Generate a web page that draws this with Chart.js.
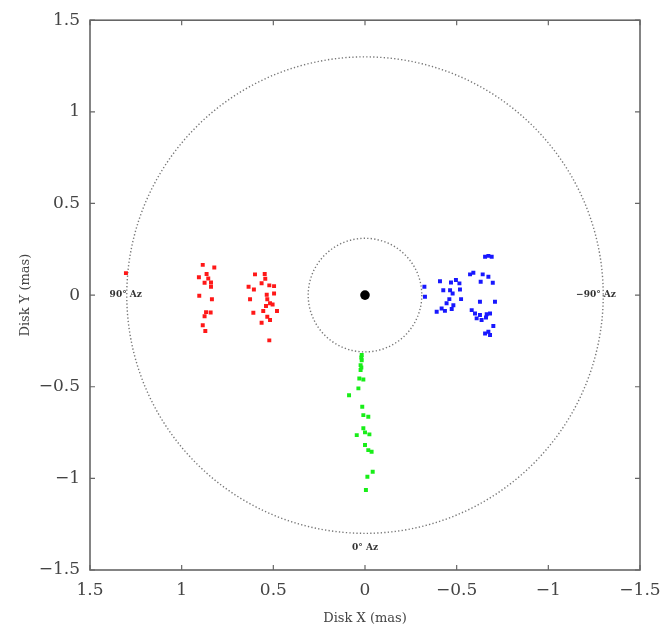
<!DOCTYPE html>
<html><head><meta charset="utf-8">
<script src="https://cdn.jsdelivr.net/npm/chart.js@4"></script>
<style>html,body{margin:0;padding:0;background:#fff;}#wrap{width:662px;height:632px;}</style>
</head><body><div id="wrap"><canvas id="c" width="662" height="632"></canvas></div>
<script>
const redX = [0.885,0.822,0.864,0.906,0.855,0.875,0.840,0.840,0.904,0.835,0.867,0.842,0.875,0.885,0.871,
  0.600,0.547,0.544,0.564,0.635,0.606,0.522,0.496,0.496,0.536,0.627,0.533,0.518,0.540,0.504,0.555,0.480,0.609,0.533,0.564,0.518,0.522,1.304];
const redY = [0.165,0.151,0.115,0.097,0.091,0.067,0.069,0.045,-0.004,-0.023,-0.093,-0.095,-0.115,-0.164,-0.196,
  0.113,0.115,0.089,0.065,0.045,0.031,0.053,0.049,0.009,0.002,-0.023,-0.023,-0.045,-0.060,-0.051,-0.087,-0.087,-0.096,-0.118,-0.151,-0.136,-0.247,0.120];
const blueX = [-0.673,-0.691,-0.655,-0.573,-0.591,-0.642,-0.673,-0.631,-0.697,-0.409,-0.469,-0.496,-0.515,-0.324,-0.427,-0.464,-0.518,-0.478,-0.327,-0.460,-0.524,-0.445,-0.482,-0.418,-0.391,-0.436,-0.473,-0.627,-0.709,-0.582,-0.600,-0.627,-0.664,-0.682,-0.609,-0.636,-0.660,-0.700,-0.673,-0.682,-0.655];
const blueY = [0.214,0.209,0.209,0.113,0.122,0.113,0.100,0.073,0.067,0.076,0.069,0.082,0.064,0.045,0.027,0.027,0.031,0.009,-0.009,-0.022,-0.022,-0.045,-0.055,-0.073,-0.091,-0.086,-0.076,-0.036,-0.036,-0.082,-0.100,-0.109,-0.104,-0.100,-0.127,-0.136,-0.122,-0.169,-0.200,-0.218,-0.209];
const greenX = [0.018,0.018,0.024,0.024,0.031,0.009,0.036,0.087,0.015,0.009,-0.018,0.009,0.045,0.000,-0.024,0.000,-0.018,-0.036,-0.042,-0.013,-0.005,0.020,0.020];
const greenY = [-0.327,-0.355,-0.382,-0.409,-0.455,-0.460,-0.509,-0.546,-0.609,-0.655,-0.664,-0.727,-0.764,-0.749,-0.760,-0.818,-0.846,-0.855,-0.964,-0.991,-1.064,-0.340,-0.395];
const centerX = [0];
const centerY = [0];
const outerRadius = 1.3;
const innerRadius = 0.31;
const tickValues = [-1.5,-1,-0.5,0,0.5,1,1.5];
const annotations = [
  {x: 1.305, y: 0, text: "90° Az"},
  {x: -1.26, y: 0, text: "−90° Az"},
  {x: 0, y: -1.38, text: "0° Az"}
];

const pts = (xs, ys) => xs.map((x, i) => ({x, y: ys[i]}));
const fmt = v => (v < 0 ? "−" + String(-v) : String(v));
const serif = "'DejaVu Serif', 'Liberation Serif', serif";

const decor = {
  id: 'decor',
  beforeDatasetsDraw(chart) {
    const {ctx, chartArea: a, scales: {x, y}} = chart;
    const cx = x.getPixelForValue(0), cy = y.getPixelForValue(0);
    ctx.save();
    ctx.strokeStyle = '#777';
    ctx.lineWidth = 1.4;
    ctx.setLineDash([1.3, 2.2]);
    [outerRadius, innerRadius].forEach(r => {
      const rp = Math.abs(y.getPixelForValue(r) - cy);
      ctx.beginPath(); ctx.arc(cx, cy, rp, 0, Math.PI * 2); ctx.stroke();
    });
    ctx.setLineDash([]);
    ctx.fillStyle = '#333';
    ctx.font = "bold 9px " + serif;
    ctx.textAlign = 'center'; ctx.textBaseline = 'middle';
    annotations.forEach(an => {
      ctx.fillText(an.text, x.getPixelForValue(an.x), y.getPixelForValue(an.y));
    });
    ctx.restore();
  },
  afterDraw(chart) {
    const {ctx, chartArea: a, scales: {x, y}} = chart;
    ctx.save();
    ctx.strokeStyle = '#666';
    ctx.lineWidth = 1.6;
    ctx.strokeRect(a.left, a.top, a.right - a.left, a.bottom - a.top);
    ctx.lineWidth = 1.2;
    const tl = 5;
    tickValues.forEach(v => {
      const px = x.getPixelForValue(v), py = y.getPixelForValue(v);
      ctx.beginPath();
      ctx.moveTo(px, a.bottom); ctx.lineTo(px, a.bottom - tl);
      ctx.moveTo(px, a.top); ctx.lineTo(px, a.top + tl);
      ctx.moveTo(a.left, py); ctx.lineTo(a.left + tl, py);
      ctx.moveTo(a.right, py); ctx.lineTo(a.right - tl, py);
      ctx.stroke();
    });
    ctx.restore();
  }
};

new Chart(document.getElementById('c'), {
  type: 'scatter',
  data: {
    datasets: [
      {data: pts(redX, redY), backgroundColor: '#ff1818', borderWidth: 0, pointStyle: 'rect', pointRadius: 2.8},
      {data: pts(blueX, blueY), backgroundColor: '#1818ff', borderWidth: 0, pointStyle: 'rect', pointRadius: 2.8},
      {data: pts(greenX, greenY), backgroundColor: '#18ee18', borderWidth: 0, pointStyle: 'rect', pointRadius: 2.8},
      {data: pts(centerX, centerY), backgroundColor: '#000', borderWidth: 0, pointStyle: 'circle', pointRadius: 4.8}
    ]
  },
  options: {
    responsive: false,
    animation: false,
    devicePixelRatio: 1,
    layout: {padding: {left: 0, top: 20, right: 22, bottom: 0}},
    plugins: {legend: {display: false}, tooltip: {enabled: false}},
    scales: {
      x: {
        type: 'linear', reverse: true, min: -1.5, max: 1.5,
        afterFit: s => { s.height = 62; },
        afterBuildTicks: s => { s.ticks = tickValues.map(v => ({value: v})); },
        grid: {display: false, drawTicks: false},
        border: {display: false},
        ticks: {color: '#444', font: {family: serif, size: 17}, padding: 10, maxRotation: 0, callback: v => fmt(v)},
        title: {display: true, text: 'Disk X (mas)', color: '#444', font: {family: serif, size: 13}, padding: {top: 4, bottom: 6}}
      },
      y: {
        type: 'linear', min: -1.5, max: 1.5,
        afterFit: s => { s.width = 90; },
        afterBuildTicks: s => { s.ticks = tickValues.map(v => ({value: v})); },
        grid: {display: false, drawTicks: false},
        border: {display: false},
        ticks: {color: '#444', font: {family: serif, size: 17}, padding: 10, callback: v => fmt(v)},
        title: {display: true, text: 'Disk Y (mas)', color: '#444', font: {family: serif, size: 13}, padding: {top: 18, bottom: 0}}
      }
    }
  },
  plugins: [decor]
});
</script></body></html>
